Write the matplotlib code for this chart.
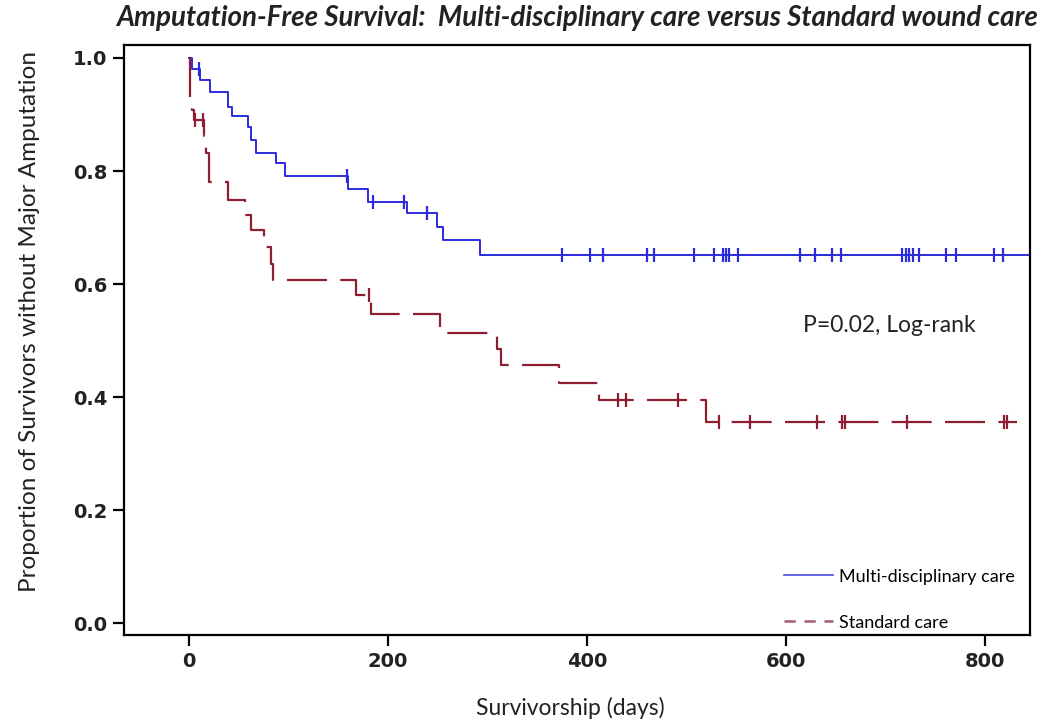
import numpy as np
import matplotlib
matplotlib.use("Agg")
import matplotlib.pyplot as plt
from matplotlib.lines import Line2D

# Kaplan-Meier steps (days, survival after step)
multi_t = [0, 3.7, 11.7, 21, 39.5, 43, 59.6, 63, 68, 88, 96.5, 160, 180, 219, 249, 255, 292.5, 850]
multi_s = [1.0, 0.980, 0.961, 0.939, 0.914, 0.898, 0.878, 0.855, 0.832, 0.814, 0.791, 0.768, 0.746,
           0.726, 0.701, 0.678, 0.651, 0.651]
multi_cens = [10.4, 158.5, 184.6, 216, 239, 375, 403.5, 416, 460, 467, 508, 528, 536.5, 539.5, 542.5,
              551.6, 613.6, 628.8, 645.8, 655.3, 716, 720, 723.6, 727.5, 733, 760.5, 771, 809, 817.4]

std_t = [0, 1, 3, 5, 15, 17, 20, 39, 57, 63, 76, 83, 85, 168, 183, 252, 310, 314, 372, 412, 520, 832]
std_s = [1.0, 0.925, 0.908, 0.890, 0.862, 0.832, 0.781, 0.749, 0.722, 0.695, 0.665, 0.636, 0.607,
         0.581, 0.547, 0.514, 0.485, 0.457, 0.425, 0.395, 0.355, 0.355]
std_cens = [6, 14, 181, 431, 439, 491, 533, 564, 631, 656, 659, 721, 819, 822]

xticks = [0, 200, 400, 600, 800]
yticks = [0.0, 0.2, 0.4, 0.6, 0.8, 1.0]

blue = '#2b2bdc'
red = '#8e1f30'


def level_at(times, surv, pts):
    # value of the KM step function at the censor times
    idx = np.searchsorted(np.array(times), np.array(pts), side='right') - 1
    return np.array(surv)[idx]


fig = plt.figure(figsize=(10.44, 7.21), dpi=100)
ax = fig.add_axes([0.1188, 0.1193, 0.8678, 0.8183])

ax.step(multi_t, multi_s, where='post', color=blue, lw=1.4)
ax.plot(multi_cens, level_at(multi_t, multi_s, multi_cens), ls='none', marker='|',
        ms=10, mew=1.6, color=blue)

ax.step(std_t, std_s, where='post', color=red, lw=1.6, dashes=(18, 6))
ax.plot(std_cens, level_at(std_t, std_s, std_cens), ls='none', marker='|',
        ms=10, mew=1.6, color=red)

ax.set_xlim(-65, 845)
ax.set_ylim(-0.021, 1.023)
ax.set_xticks(xticks)
ax.set_yticks(yticks)
ax.set_yticklabels([f"{v:.1f}" for v in yticks])
ax.tick_params(axis='both', length=8, width=1.6, labelsize=14, pad=4)
for lab in ax.get_xticklabels() + ax.get_yticklabels():
    lab.set_fontweight('bold')
    lab.set_color('#222222')
for sp in ax.spines.values():
    sp.set_linewidth(1.6)

fig.text(570 / 1044, 1 - 708 / 721, 'Survivorship (days)', fontsize=16.5, family='Lato',
         ha='center', va='center', color='#222222')
fig.text(30 / 1044, 1 - 321 / 721, 'Proportion of Survivors without Major Amputation', fontsize=17.5,
         family='Lato', rotation=90, ha='center', va='center', color='#222222')

ax.text(617, 0.527, 'P=0.02, Log-rank', fontsize=16.5, family='Lato', va='center', color='#222222')

handles = [Line2D([], [], color='#4a4ae0', lw=1.2),
           Line2D([], [], color='#a0606c', lw=1.8, dashes=(4.5, 3.5))]
ax.legend(handles, ['Multi-disciplinary care', 'Standard care'], loc='lower left',
          bbox_to_anchor=(0.71, -0.02), frameon=False, prop={'family': 'Lato', 'size': 13},
          handlelength=2.75, handletextpad=0.35, labelspacing=1.65)

fig.text(577 / 1044, 0.975, 'Amputation-Free Survival:  Multi-disciplinary care versus Standard wound care',
         ha='center', va='center', fontsize=20, family='Lato', fontweight='bold', style='italic',
         color='#222222')

fig.savefig('out.png', dpi=100)
